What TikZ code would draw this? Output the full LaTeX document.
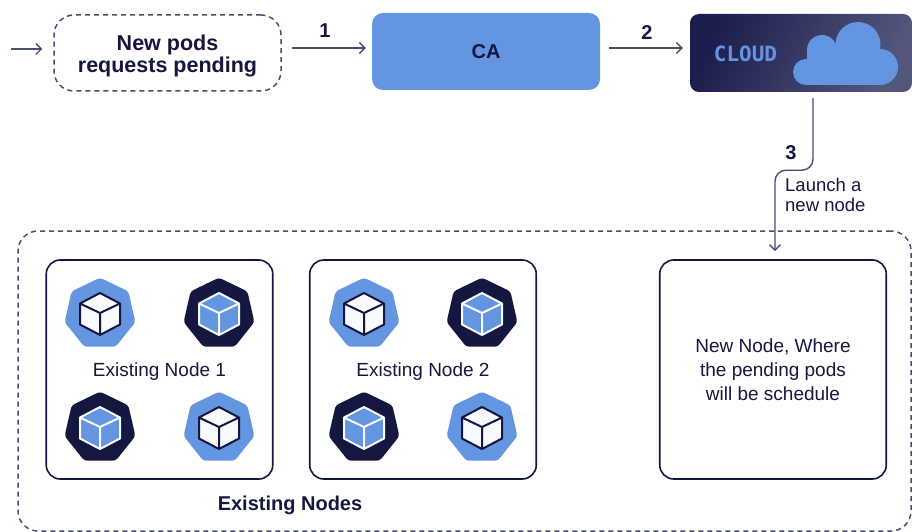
\documentclass[tikz,border=0pt]{standalone}
\usepackage{fontspec}
\setmainfont{Liberation Sans}
\setmonofont{DejaVu Sans Mono}
\usetikzlibrary{shapes.geometric}
\usetikzlibrary{arrows.meta}
\definecolor{navy}{HTML}{14173F}
\definecolor{linegray}{HTML}{494D72}
\definecolor{podblue}{HTML}{6395E1}
\definecolor{cubewhite}{HTML}{F8FAFF}
\definecolor{cloudlow}{HTML}{1B1D4D}
\definecolor{cloudmid}{HTML}{33365F}
\definecolor{cloudhigh}{HTML}{53577C}
\tikzset{
  flow/.style={draw=linegray, line width=1.4pt, -{Straight Barb[length=5.5pt,width=11pt]}},
  dashbox/.style={draw=linegray, line width=1.5pt, dash pattern=on 5pt off 4pt, rounded corners=20pt, inner sep=0pt},
  nodebox/.style={draw=navy, line width=1.6pt, rounded corners=14pt, minimum width=226.5pt, minimum height=219pt, inner sep=0pt},
  pod/.style={regular polygon, regular polygon sides=7, minimum size=72.6pt, inner sep=0pt, rounded corners=3pt},
  txt/.style={text=navy, align=center, inner sep=0pt, font=\fontsize{19}{24}\selectfont},
  boldtxt/.style={txt, font=\fontsize{20}{22}\selectfont\bfseries},
  cubepic/.pic={
    \draw[pic actions, line width=2pt, line join=round]
      (0,-21) -- (20,-10.5) -- (20,10.5) -- (0,21) -- (-20,10.5) -- (-20,-10.5) -- cycle
      (20,-10.5) -- (0,-1) -- (-20,-10.5) (0,-1) -- (0,21) ;
  }
}

\begin{document}
\begin{tikzpicture}[x=1pt, y=-1pt]
	    \useasboundingbox (0,0) rectangle (912,532) ;

	    % top row
	    \node[dashbox, minimum width=227pt, minimum height=76pt] (pending) at (167.5,53) {} ;
	    \node[boldtxt, font=\fontsize{21.5}{22}\selectfont\bfseries] (pendingtxt) at (167.5,56) {New pods\\requests pending} ;
	    \node[fill=podblue, rounded corners=11pt, minimum width=228pt, minimum height=77pt, inner sep=0pt] (ca) at (486,51.5) {} ;
	    \node[boldtxt] (catxt) at (486,52) {CA} ;
	    \node[rounded corners=9pt, minimum width=222pt, minimum height=78pt, inner sep=0pt,
	      left color=cloudlow, middle color=cloudmid, right color=cloudhigh, shading angle=65] (cloudbox) at (801,53) {} ;
	    \node[inner sep=0pt, font=\fontsize{21}{22}\selectfont\ttfamily\bfseries, text=podblue] (cloudtxt) at (745.5,54) {CLOUD} ;

	    % cloud made of circles
	    \foreach \x/\y/\r in {806/72/13, 822/50/15, 858/44.5/22.5, 880/67/18}
	      \fill[podblue] (\x,\y) circle (\r) ;
	    \fill[podblue] (806,62) rectangle (880,85) ;
	    \fill[podblue] (807,50) rectangle (868,62) ;

	    % bottom area
	    \node[dashbox, minimum width=893pt, minimum height=300pt] (existing) at (464.5,381) {} ;
	    \node[nodebox] (nodeone) at (159.5,369.5) {} ;
	    \node[nodebox] (nodetwo) at (423,369.5) {} ;
	    \node[nodebox] (newnode) at (773,369.5) {} ;
	    \node[txt] (nodeonetxt) at (159.5,371.5) {Existing Node 1} ;
	    \node[txt] (nodetwotxt) at (423,371.5) {Existing Node 2} ;
	    \node[txt] (newnodetxt) at (773,370) {New Node, Where\\the pending pods\\will be schedule} ;
	    \node[boldtxt, font=\fontsize{20}{22}\selectfont\bfseries] (existingtxt) at (290,505) {Existing Nodes} ;

	    % connectors
	    \coordinate (start) at (11,49) ;
	    \draw[flow] (start) -- ([xshift=-11pt,yshift=4pt]pending.west) ;
	    \draw[flow] ([xshift=10pt,yshift=5pt]pending.east) -- ([xshift=-6pt,yshift=3.5pt]ca.west) ;
	    \draw[flow] ([xshift=9pt,yshift=3.5pt]ca.east) -- ([xshift=-7pt,yshift=5pt]cloudbox.west) ;
	    \draw[flow, rounded corners=11pt] ([xshift=12pt,yshift=-6pt]cloudbox.south) -- ++(0,72) -- ++(-38,0)
	      -- ([xshift=2pt,yshift=8pt]newnode.north) ;
	    \node[boldtxt] (one) at (325,31) {1} ;
	    \node[boldtxt] (two) at (647,33) {2} ;
	    \node[boldtxt] (three) at (791,153) {3} ;
	    \node[txt, align=left, anchor=west, font=\fontsize{18.5}{20.5}\selectfont] (launch) at (785,195) {Launch a\\new node} ;

	    % pods
	    \foreach \x/\y in {100/314, 219/428, 364/314, 482/428}
	    {\node[pod, fill=podblue] (pod\x) at (\x,\y) {} ;
	      \pic[draw=navy, fill=cubewhite] at (\x,\y) {cubepic} ;
	    }
	    \foreach \x/\y in {219/314, 100/428, 482/314, 364/428}
	    {\node[pod, fill=navy] (pod\x) at (\x,\y) {} ;
	      \pic[draw=cubewhite, fill=podblue] at (\x,\y) {cubepic} ;
	    }
\end{tikzpicture}
\end{document}
